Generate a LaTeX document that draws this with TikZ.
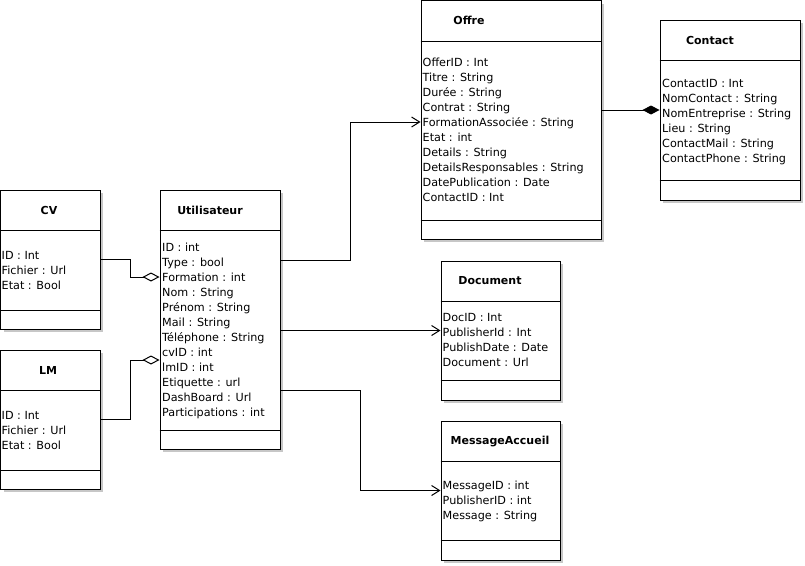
\documentclass[tikz,border=0pt]{standalone}
\usepackage{fontspec}
\setmainfont{DejaVu Sans}
\usetikzlibrary{arrows.meta}
\definecolor{shadowgray}{gray}{0.78}
\tikzset{
  classbox/.style={draw=black, fill=white, line width=1pt, inner sep=0pt},
  classtitle/.style={font=\bfseries\fontsize{11}{13}\selectfont, inner sep=0pt},
  attrs/.style={font=\fontsize{11.2}{15}\selectfont, align=left, anchor=north west,
                inner sep=0pt, execute at begin node=\strut},
  link/.style={line width=1pt},
  nav/.style={link, -{Straight Barb[length=8pt,width=10pt]}},
  aggregation/.style={link, -{Diamond[open,length=17pt,width=9pt]}},
  composition/.style={link, -{Diamond[length=17pt,width=9pt]}},
}
% class frame: name, left, top, right, bottom, lower separator
\newcommand{\umlclass}[6]{%
  \fill[shadowgray] (#2+3,#3+3) rectangle (#4+3,#5+3);
  \node[classbox, minimum width={#4-#2}, minimum height={#5-#3}] (#1)
    at ({(#2+#4)/2},{(#3+#5)/2}) {};
  \draw[link] (#1.west |- 0,#3+40.5) -- (#1.east |- 0,#3+40.5);
  \draw[link] (#1.west |- 0,#6) -- (#1.east |- 0,#6);
}
\begin{document}
\begin{tikzpicture}[x=1pt,y=-1pt]
\useasboundingbox (0,0) rectangle (805,565);

% classes
\umlclass{cv}{0.5}{190}{100}{329}{310.5}
\umlclass{lm}{0.5}{350}{100}{489}{470}
\umlclass{util}{160}{190}{280}{449}{430.5}
\umlclass{offre}{421}{0.5}{601}{239}{220}
\umlclass{contact}{660}{20}{800}{200}{180}
\umlclass{doc}{441}{261}{560}{400}{380.5}
\umlclass{msg}{441}{421}{560}{560}{540}

% titles
\node[classtitle] (cv-title) at (49,210) {CV};
\node[classtitle] (lm-title) at (48,370) {LM};
\node[classtitle] (util-title) at (210,210) {Utilisateur};
\node[classtitle] (offre-title) at (469,20.5) {Offre};
\node[classtitle] (contact-title) at (710,40) {Contact};
\node[classtitle] (doc-title) at (490,281) {Document};
\node[classtitle] (msg-title) at (500,441) {MessageAccueil};

% attributes
\node[attrs] (cv-attrs) at (1.5,251) {ID : Int\\Fichier : Url\\Etat : Bool};
\node[attrs] (lm-attrs) at (1.5,411) {ID : Int\\Fichier : Url\\Etat : Bool};
\node[attrs] (util-attrs) at (162,243) {ID : int\\Type : bool\\Formation : int\\Nom : String\\Prénom : String\\Mail : String\\Téléphone : String\\cvID : int\\lmID : int\\Etiquette : url\\DashBoard : Url\\Participations : int};
\node[attrs] (offre-attrs) at (422.5,58) {OfferID : Int\\Titre : String\\Durée : String\\Contrat : String\\FormationAssociée : String\\Etat : int\\Details : String\\DetailsResponsables : String\\DatePublication : Date\\ContactID : Int};
\node[attrs] (contact-attrs) at (662,78.5) {ContactID : Int\\NomContact : String\\NomEntreprise : String\\Lieu : String\\ContactMail : String\\ContactPhone : String};
\node[attrs] (doc-attrs) at (442.5,313.5) {DocID : Int\\PublisherId : Int\\PublishDate : Date\\Document : Url};
\node[attrs] (msg-attrs) at (442.5,481) {MessageID : int\\PublisherID : int\\Message : String};

% relations
\draw[aggregation] (cv.east) -- ++(30,0) |- ([yshift=42.5pt]util.west);
\draw[aggregation] (lm.east) -- ++(30,0) |- ([yshift=-40.5pt]util.west);
\draw[nav] ([yshift=59.5pt]util.east) -- ++(70,0) |- ([yshift=-2.25pt]offre.west);
\draw[nav] (util.east |- doc.west) -- (doc.west);
\draw[nav] ([yshift=-70.5pt]util.east) -- ++(80,0) |- (msg.west);
\draw[composition] (offre.east |- contact.west) -- (contact.west);
\end{tikzpicture}
\end{document}
